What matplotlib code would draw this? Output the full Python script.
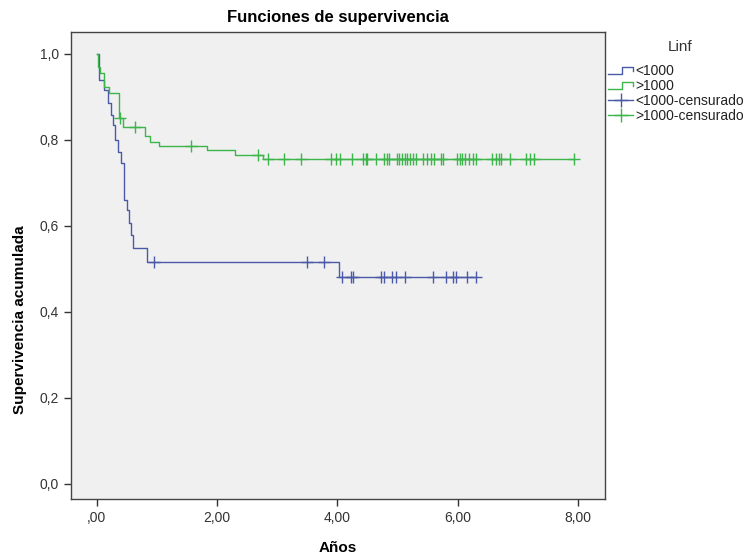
import matplotlib
matplotlib.use("Agg")
import matplotlib.pyplot as plt
from matplotlib.lines import Line2D
from matplotlib.legend_handler import HandlerBase

plt.rcParams['font.family'] = ['Liberation Sans', 'DejaVu Sans']

# ---- data ----
legend_title = "Linf"
group_labels = ["<1000", ">1000"]
cens_labels = ["<1000-censurado", ">1000-censurado"]

low_times = [0.0, 0.04, 0.12, 0.18, 0.24, 0.27, 0.30, 0.35, 0.40, 0.45, 0.50, 0.54, 0.57, 0.60, 0.84, 4.02, 6.30]
low_surv = [1.0, 0.94, 0.915, 0.886, 0.858, 0.835, 0.80, 0.772, 0.746, 0.66, 0.637, 0.607, 0.579, 0.548, 0.517, 0.481, 0.481]
low_cens = [0.95, 3.49, 3.77, 4.08, 4.22, 4.26, 4.72, 4.77, 4.91, 4.97, 5.13, 5.59, 5.80, 5.93, 5.98, 6.16, 6.30]

high_times = [0.0, 0.02, 0.06, 0.12, 0.20, 0.36, 0.43, 0.80, 0.88, 1.03, 1.83, 2.30, 2.77, 7.93]
high_surv = [1.0, 0.97, 0.956, 0.924, 0.908, 0.85, 0.831, 0.808, 0.796, 0.786, 0.777, 0.765, 0.755, 0.755]
high_cens = [0.38, 0.63, 1.57, 2.68, 2.85, 3.11, 3.39, 3.89, 3.97, 4.04, 4.24, 4.43, 4.47, 4.50,
             4.65, 4.77, 4.82, 4.86, 4.99, 5.03, 5.08, 5.12, 5.16, 5.20, 5.26, 5.31, 5.43, 5.49,
             5.55, 5.60, 5.72, 5.76, 5.99, 6.04, 6.08, 6.13, 6.19, 6.25, 6.30, 6.57, 6.63, 6.69,
             6.72, 6.87, 7.14, 7.20, 7.27, 7.93]

xticks = [0, 2, 4, 6, 8]
xticklabels = [",00", "2,00", "4,00", "6,00", "8,00"]
yticks = [0.0, 0.2, 0.4, 0.6, 0.8, 1.0]
yticklabels = ["0,0", "0,2", "0,4", "0,6", "0,8", "1,0"]

blue = "#4a5aa8"
green = "#3cb54a"
W, H = 751, 554


def surv_at(times, surv, t):
    val = surv[0]
    for ti, si in zip(times, surv):
        if ti <= t:
            val = si
    return val


fig = plt.figure(figsize=(W / 100, H / 100), dpi=100)
ax = fig.add_axes([71 / W, 1 - 499 / H, (605 - 71) / W, (499 - 32) / H])
ax.set_facecolor("#f0f0f0")

ax.step(low_times, low_surv, where="post", color=blue, lw=1.0)
ax.step(high_times, high_surv, where="post", color=green, lw=1.0)
ax.plot(low_cens, [surv_at(low_times, low_surv, t) for t in low_cens], ls="none",
        marker="+", ms=8, mew=1.0, color=blue)
ax.plot(high_cens, [surv_at(high_times, high_surv, t) for t in high_cens], ls="none",
        marker="+", ms=8, mew=1.0, color=green)

ax.set_xlim(-0.43, 8.45)
ax.set_ylim(-0.035, 1.051)
ax.set_xticks(xticks)
ax.set_xticklabels(xticklabels)
ax.set_yticks(yticks)
ax.set_yticklabels(yticklabels)
ax.tick_params(direction="out", length=5, width=1, colors="#333333", labelsize=10,
               labelcolor="#333333")
for sp in ax.spines.values():
    sp.set_color("#444444")
    sp.set_linewidth(1.0)

ax.set_title("Funciones de supervivencia", fontsize=12, fontweight="bold", pad=7)
ax.set_xlabel("Años", fontsize=11, fontweight="bold", labelpad=12)
ax.set_ylabel("Supervivencia acumulada", fontsize=11, fontweight="bold")
ax.yaxis.set_label_coords(-0.083, 0.385)


class StepHandler(HandlerBase):
    def create_artists(self, legend, orig_handle, xdescent, ydescent, width, height, fontsize, trans):
        x0, x1 = -xdescent, -xdescent + width
        xm = x0 + 0.55 * width
        y0 = -ydescent + 0.1 * height
        y1 = -ydescent + 0.85 * height
        ln = Line2D([x0, xm, xm, x1, x1], [y0, y0, y1, y1, y0 + 0.3 * height],
                    color=orig_handle.get_color(), lw=1.0, transform=trans)
        return [ln]


h_low = Line2D([], [], color=blue)
h_high = Line2D([], [], color=green)
h_lowc = Line2D([], [], color=blue, marker="+", ms=10, mew=1.0, lw=1.0)
h_highc = Line2D([], [], color=green, marker="+", ms=10, mew=1.0, lw=1.0)

fig.text(680 / W, 1 - 47 / H, legend_title, fontsize=11, color="#333333",
         ha="center", va="center")
leg = fig.legend([h_low, h_high, h_lowc, h_highc], group_labels + cens_labels,
                 loc="upper left", bbox_to_anchor=(608 / W, 1 - 64 / H),
                 frameon=False, fontsize=10, handlelength=1.8,
                 handletextpad=0.2, labelspacing=0.08, borderaxespad=0.0, borderpad=0.0,
                 handler_map={h_low: StepHandler(), h_high: StepHandler()})
for t in leg.get_texts():
    t.set_color("#222222")

fig.savefig("out.png", dpi=100)
